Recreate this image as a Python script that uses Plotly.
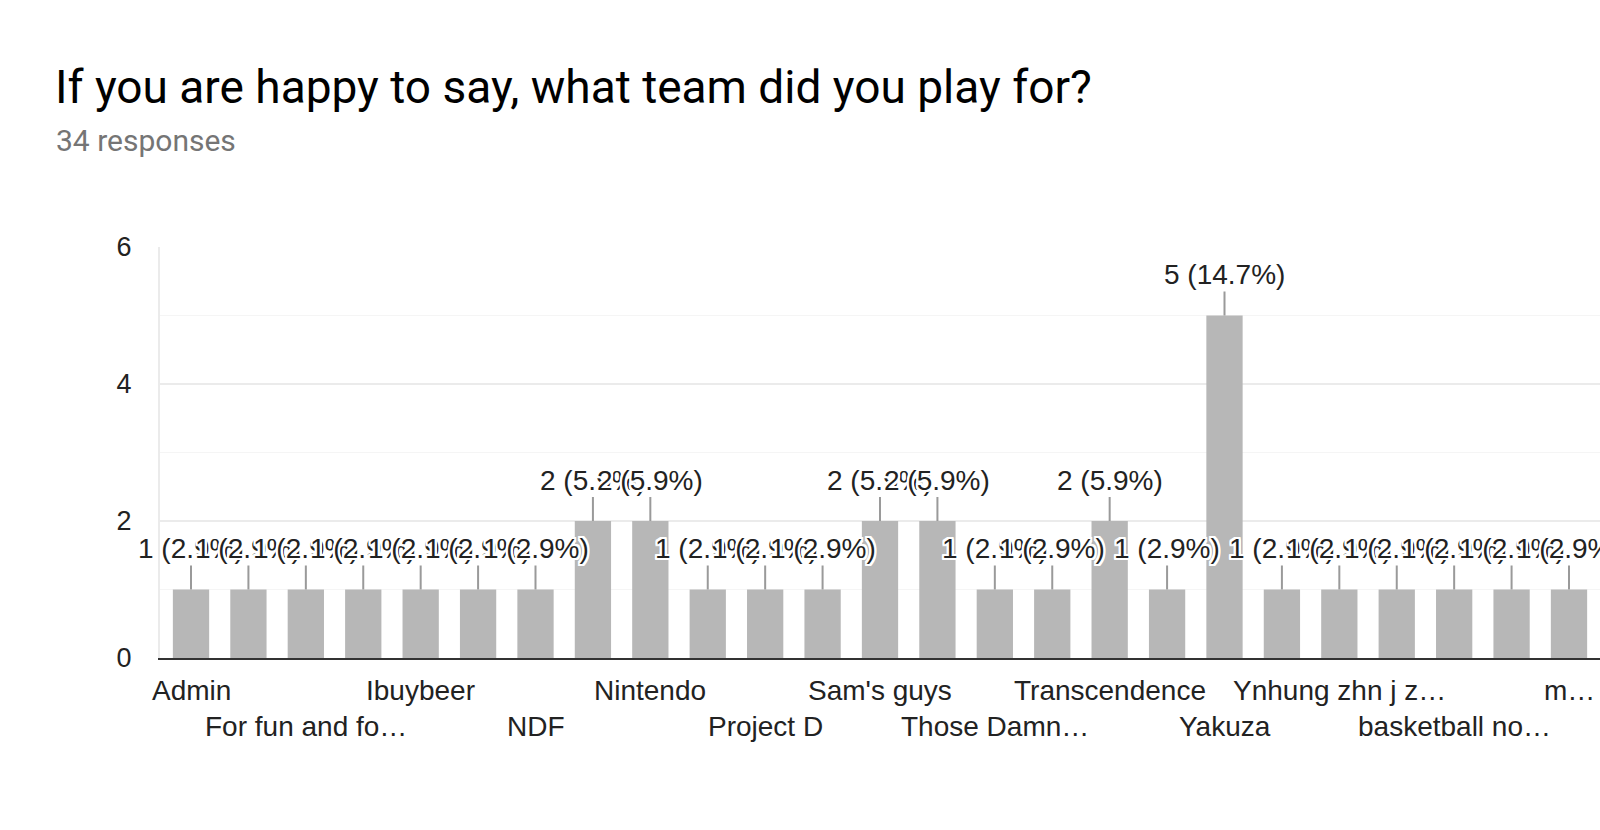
import plotly.graph_objects as go

categories = [
    "Admin", "Bad Company", "For fun and fo…", "Gamers", "Ibuybeer", "Legends",
    "NDF", "Nerds", "Nintendo", "Ninjas", "Project D", "Rockets", "Sam's guys",
    "Team X", "Those Damn…", "Tigers", "Transcendence", "Wildcats", "Yakuza",
    "Yeti", "Ynhung zhn j z…", "asdf", "basketball no…", "hoops", "m…",
]
counts = [1, 1, 1, 1, 1, 1, 1, 2, 2, 1, 1, 1, 2, 2, 1, 1, 2, 1, 5, 1, 1, 1, 1, 1, 1]
total_responses = 34
y_ticks = [0, 2, 4, 6]

W, H = 1600, 830
L, R, T, B = 160, 1600, 247, 658

def px_x(px):
    return (px - L) / (R - L)

def px_y(py):
    return (B - py) / (B - T)

fig = go.Figure(go.Bar(
    x=categories, y=counts,
    marker=dict(color="#b7b7b7", line=dict(width=0)),
    hoverinfo="skip",
))

halo = ", ".join(f"{dx}px {dy}px 0 #fff" for dx in (-2, -1, 0, 1, 2) for dy in (-2, -1, 0, 1, 2))

annotations = []
for cat, v in zip(categories, counts):
    pct = v / total_responses * 100
    annotations.append(dict(
        x=cat, y=v, xref="x", yref="y",
        text=f"{v} ({pct:.1f}%)",
        showarrow=True, arrowhead=0, arrowwidth=2, arrowcolor="#9a9a9a",
        ax=0, ay=-41, standoff=0,
        font=dict(family="Liberation Sans, Arial", size=28, color="#222", shadow=halo),
    ))

# x labels: every other category, alternating rows
for i, cat in enumerate(categories):
    if i % 2 == 1:
        continue
    row = (i // 2) % 2
    annotations.append(dict(
        x=cat, xref="x", y=0, yref="paper",
        text=cat, showarrow=False,
        yanchor="middle", yshift=-32 - 36 * row,
        font=dict(family="Liberation Sans, Arial", size=28, color="#222"),
    ))

annotations.append(dict(
    x=px_x(54), y=px_y(140), xref="paper", yref="paper",
    xanchor="left", yanchor="middle", showarrow=False,
    text=f"{total_responses} responses",
    font=dict(family="Roboto", size=30, color="#757575"),
))

fig.update_layout(
    width=W, height=H,
    margin=dict(l=L, r=W - R, t=T, b=H - B, pad=0),
    paper_bgcolor="white", plot_bgcolor="white",
    bargap=0.368,
    showlegend=False,
    title=dict(
        text="If you are happy to say, what team did you play for?",
        xref="container", yref="container",
        x=55 / W, y=1 - 87 / H, xanchor="left", yanchor="middle",
        font=dict(family="Roboto", size=46, color="#000"),
    ),
    xaxis=dict(
        range=[-0.54, len(categories) - 0.46], autorange=False,
        showticklabels=False, showgrid=False, ticks="",
        showline=True, linecolor="#333", linewidth=2,
        fixedrange=True,
    ),
    yaxis=dict(
        range=[0, 6], tickvals=y_ticks, ticks="",
        showgrid=True, gridcolor="#ebebeb", gridwidth=1.5,
        minor=dict(dtick=1, showgrid=True, gridcolor="#f5f5f5", gridwidth=1),
        zeroline=False,
        showline=True, linecolor="#ebebeb", linewidth=2,
        tickfont=dict(family="Liberation Sans, Arial", size=27, color="#222"),
        ticklabelstandoff=21,
        fixedrange=True,
    ),
    annotations=annotations,
)

fig.write_html(
    "out.html",
    config={"displayModeBar": False},
    post_script="document.body.style.margin='0';document.body.style.overflow='hidden';",
)
